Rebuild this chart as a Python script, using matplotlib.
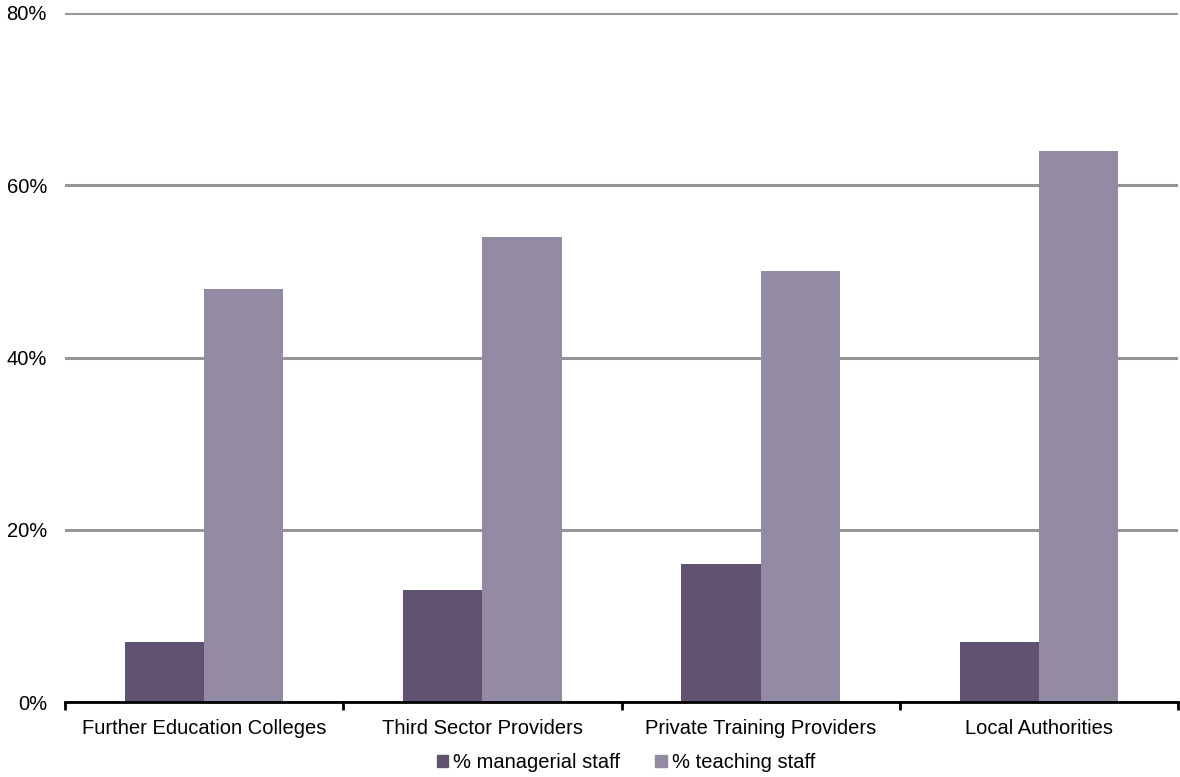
import matplotlib
matplotlib.use("Agg")
import matplotlib.pyplot as plt
import numpy as np
from matplotlib.patches import Patch

plt.rcParams['font.family'] = ['Liberation Sans', 'DejaVu Sans']

categories = ["Further Education Colleges", "Third Sector Providers",
              "Private Training Providers", "Local Authorities"]
managerial = [7, 13, 16, 7]
teaching = [48, 54, 50, 64]
series_labels = ["% managerial staff", "% teaching staff"]
yticks = [0, 20, 40, 60, 80]
ytick_labels = ["0%", "20%", "40%", "60%", "80%"]

c_man = "#615272"
c_teach = "#938aa3"
fs = 14.5

fig = plt.figure(figsize=(11.8, 7.77), dpi=100)
ax = fig.add_axes([65/1180, 1 - 702/777, (1178-65)/1180, (702-13)/777])

x = np.arange(len(categories))
w = 0.285
ax.bar(x - w/2, managerial, width=w, color=c_man, zorder=3)
ax.bar(x + w/2, teaching, width=w, color=c_teach, zorder=3)

ax.set_xlim(-0.5, len(categories) - 0.5)
ax.set_ylim(0, 80)
ax.set_yticks(yticks)
ax.set_yticklabels(ytick_labels, fontsize=fs)
ax.yaxis.grid(True, color="#969696", linewidth=2.2, zorder=0)
ax.tick_params(axis='y', length=0, pad=13)

for s in ["top", "right", "left"]:
    ax.spines[s].set_visible(False)
ax.spines["bottom"].set_linewidth(2)
ax.spines["bottom"].set_color("black")
ax.spines["bottom"].set_zorder(4)

ax.set_xticks(np.arange(len(categories) + 1) - 0.5)
ax.set_xticklabels([])
ax.tick_params(axis='x', length=6, width=2, direction='out')
ax.set_xticks(x, minor=True)
ax.set_xticklabels(categories, minor=True, fontsize=fs)
ax.tick_params(axis='x', which='minor', length=0, pad=12)

handles = [Patch(color=c_man), Patch(color=c_teach)]
fig.legend(handles, series_labels, loc="center", bbox_to_anchor=(626/1180, 1 - 763/777),
           ncol=2, frameon=False, fontsize=fs, handlelength=0.55, handleheight=0.55,
           handletextpad=0.25, columnspacing=1.75)

fig.savefig("out.png", dpi=100)
